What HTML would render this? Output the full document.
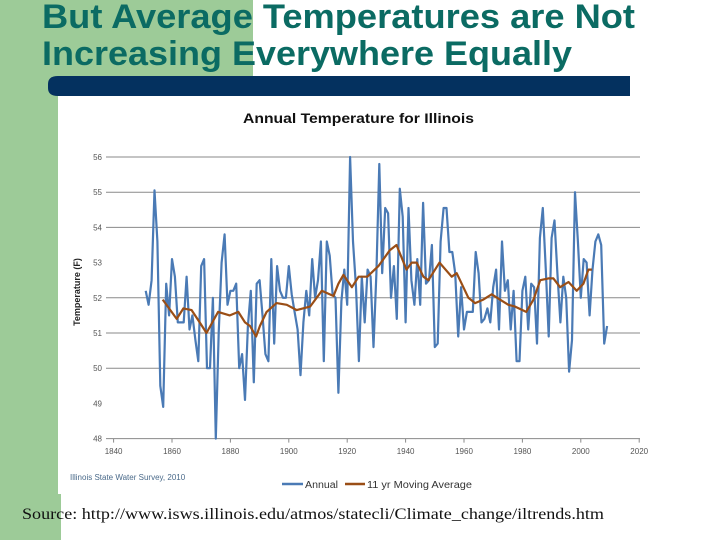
<!DOCTYPE html>
<html><head><meta charset="utf-8">
<style>
html,body{margin:0;padding:0;background:#fff;}
#slide{position:relative;width:720px;height:540px;overflow:hidden;background:#fff;font-family:"Liberation Sans",sans-serif;}
</style></head>
<body>
<div id="slide">
<svg id="chart" width="720" height="540" viewBox="0 0 720 540" xmlns="http://www.w3.org/2000/svg">
  <rect x="0" y="0" width="253" height="76" fill="#9dcb98"/>
  <rect x="0" y="76" width="58" height="464" fill="#9dcb98"/>
  <rect x="58" y="494" width="3" height="46" fill="#9dcb98"/>
  <path d="M58,76 L630,76 L630,96 L58,96 Q48,96 48,88 L48,84 Q48,76 58,76 Z" fill="#04315f"/>
  <text x="42" y="28" textLength="593" lengthAdjust="spacingAndGlyphs" font-family="Liberation Sans, sans-serif" font-weight="bold" font-size="34" fill="#0b6b63">But Average Temperatures are Not</text>
  <text x="42" y="65" textLength="530" lengthAdjust="spacingAndGlyphs" font-family="Liberation Sans, sans-serif" font-weight="bold" font-size="34" fill="#0b6b63">Increasing Everywhere Equally</text>
  <text x="243" y="123" textLength="231" lengthAdjust="spacingAndGlyphs" font-family="Liberation Sans, sans-serif" font-weight="bold" font-size="14" fill="#111">Annual Temperature for Illinois</text>
  <text transform="translate(80,292) rotate(-90)" text-anchor="middle" font-family="Liberation Sans, sans-serif" font-weight="bold" font-size="9" fill="#222">Temperature (F)</text>
  <g id="grid"></g>
  <g id="series"></g>
  <text x="70" y="480" font-family="Liberation Sans, sans-serif" font-size="8" fill="#4a6a8a">Illinois State Water Survey, 2010</text>
  <line x1="282" y1="484" x2="303" y2="484" stroke="#4a7ab5" stroke-width="2.5"/>
  <text x="305" y="488" textLength="33" lengthAdjust="spacingAndGlyphs" font-family="Liberation Sans, sans-serif" font-size="10" fill="#333">Annual</text>
  <line x1="345" y1="484" x2="365" y2="484" stroke="#9a4e16" stroke-width="2.5"/>
  <text x="367" y="488" textLength="105" lengthAdjust="spacingAndGlyphs" font-family="Liberation Sans, sans-serif" font-size="10" fill="#333">11 yr Moving Average</text>
  <text x="22" y="519" textLength="582" lengthAdjust="spacingAndGlyphs" font-family="Liberation Serif, serif" font-size="16" fill="#111">Source: http://www.isws.illinois.edu/atmos/statecli/Climate_change/iltrends.htm</text>
</svg>
</div>
<script>
const annualStart = 1851;
const annualValues = [52.2,51.8,52.5,55.05,53.6,49.5,48.9,52.4,51.5,53.1,52.6,51.3,51.3,51.3,52.6,51.1,51.5,50.8,50.2,52.9,53.1,50.0,50.0,52.0,48.0,51.0,53.0,53.8,51.8,52.2,52.2,52.4,50.0,50.4,49.1,51.2,52.2,49.6,52.4,52.5,51.5,50.4,50.2,53.1,50.7,52.9,52.2,52.0,52.0,52.9,52.1,51.6,51.1,49.8,51.3,52.2,51.5,53.1,52.0,52.5,53.6,50.2,53.6,53.2,52.1,52.0,49.3,51.9,52.8,51.8,56.0,53.6,52.3,50.2,52.6,51.3,52.8,52.6,50.6,52.7,55.8,
52.7,54.55,54.4,52.0,52.9,51.4,55.1,54.3,51.3,54.55,52.5,51.8,53.1,51.8,54.7,52.4,52.5,53.5,50.6,50.7,53.6,54.55,54.55,53.3,53.3,52.7,50.9,52.3,51.1,51.6,51.6,51.6,53.3,52.7,51.3,51.4,51.7,51.3,52.3,52.8,51.1,53.6,52.2,52.5,51.1,52.2,50.2,50.2,52.2,52.6,51.1,52.4,52.3,50.7,53.7,54.55,52.8,50.9,53.7,54.2,52.7,51.3,52.6,52.0,49.9,50.8,55.0,53.6,52.0,53.1,53.0,51.5,52.8,53.6,53.8,53.5,50.7,51.2];
const maYears = [1856.8,1861.6,1863.9,1866.7,1869.5,1871.8,1875.8,1879.8,1882.7,1885,1886.7,1888.8,1890.1,1892.4,1895.8,1899.3,1902.7,1907.3,1911.3,1915.3,1917,1918.7,1921.6,1923.9,1926.9,1930.7,1934.6,1936.9,1940.3,1942.1,1943.8,1946.1,1947.8,1951.6,1955.8,1957.5,1961.5,1963.8,1966.6,1969.5,1972.3,1975.2,1977.5,1981.3,1983.8,1986.1,1988.9,1990.6,1992.9,1995.8,1998.6,2000.9,2002.6,2003.8];
const maValues = [51.95,51.4,51.7,51.65,51.3,51.0,51.6,51.5,51.6,51.3,51.2,50.9,51.2,51.6,51.85,51.8,51.65,51.75,52.2,52.05,52.4,52.65,52.3,52.6,52.6,52.9,53.35,53.5,52.8,53.0,53.0,52.6,52.5,53.0,52.6,52.7,52.0,51.85,51.95,52.1,51.95,51.8,51.75,51.6,51.95,52.5,52.55,52.55,52.3,52.45,52.2,52.4,52.8,52.8];
const yTicks = [48,49,50,51,52,53,54,55,56];
const yGridShown = [48,50,51,52,54,55,56];
const xTicks = [1840,1860,1880,1900,1920,1940,1960,1980,2000,2020];

const NS = "http://www.w3.org/2000/svg";
function xs(yr){ return 113.6 + (yr - 1840) * 2.92; }
function ys(v){ return 157 + (56 - v) * 35.2; }
function mk(tag, attrs, parent){
  const e = document.createElementNS(NS, tag);
  for (const k in attrs) e.setAttribute(k, attrs[k]);
  parent.appendChild(e);
  return e;
}
const grid = document.getElementById('grid');
const series = document.getElementById('series');
yTicks.forEach(function(v){
  if (yGridShown.indexOf(v) >= 0) {
    const l = mk('line', {x1:106, x2:640, y1:ys(v), y2:ys(v), stroke:'#8a8a8a', 'stroke-width':1}, grid);
    
    
  }
  const t = mk('text', {x:102, y:ys(v)+3, 'text-anchor':'end', 'font-size':8, fill:'#555', 'font-family':'Liberation Sans, sans-serif'}, grid);
  t.textContent = v;
  
  
});
xTicks.forEach(function(yr){
  const tk = mk('line', {x1:xs(yr), x2:xs(yr), y1:ys(48), y2:ys(48)+4, stroke:'#8a8a8a', 'stroke-width':1}, grid);
  
  
  const t = mk('text', {x:xs(yr), y:454, 'text-anchor':'middle', 'font-size':8, fill:'#555', 'font-family':'Liberation Sans, sans-serif'}, grid);
  t.textContent = yr;
  
  
});
const annualPts = annualValues.map(function(v, i){ return xs(annualStart + i).toFixed(1) + ',' + ys(v).toFixed(1); }).join(' ');
const annual = mk('polyline', {points: annualPts, fill:'none', stroke:'#4a7ab5', 'stroke-width':2.2, 'stroke-linejoin':'round'}, series);


const maPts = maValues.map(function(v, i){ return xs(maYears[i]).toFixed(1) + ',' + ys(v).toFixed(1); }).join(' ');
const ma = mk('polyline', {points: maPts, fill:'none', stroke:'#9a4e16', 'stroke-width':2.2, 'stroke-linejoin':'round'}, series);


</script>
</body></html>
